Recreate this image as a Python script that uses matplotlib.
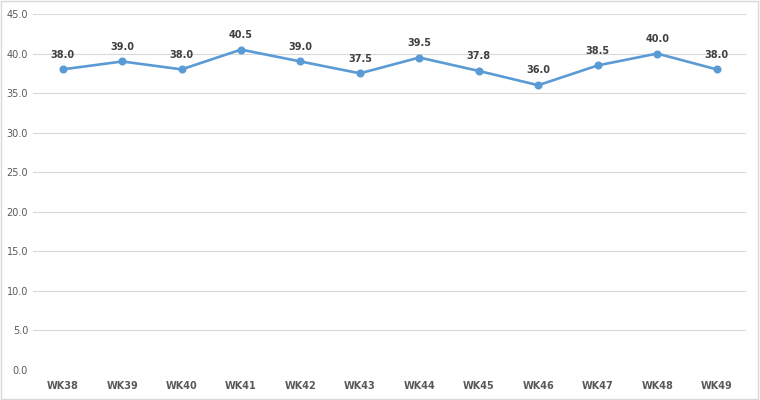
import matplotlib.pyplot as plt
from matplotlib.patches import Rectangle

weeks = ["WK38", "WK39", "WK40", "WK41", "WK42", "WK43",
         "WK44", "WK45", "WK46", "WK47", "WK48", "WK49"]
values = [38.0, 39.0, 38.0, 40.5, 39.0, 37.5, 39.5, 37.8, 36.0, 38.5, 40.0, 38.0]
y_ticks = [0, 5, 10, 15, 20, 25, 30, 35, 40, 45]

fig = plt.figure(figsize=(7.6, 4), dpi=100)
ax = fig.add_axes([0.0434, 0.075, 0.9386, 0.89])

x = list(range(len(weeks)))
ax.plot(x, values, color="#5B9BD5", lw=1.9, marker="o", ms=4.8, zorder=3)
for xi, v in zip(x, values):
    ax.annotate(f"{v:.1f}", (xi, v), xytext=(0, 7), textcoords="offset points",
                ha="center", va="bottom", fontsize=7, fontweight="bold",
                color="#404040")

ax.set_xlim(-0.5, len(weeks) - 0.5)
ax.set_ylim(0, 45)
ax.set_yticks(y_ticks)
ax.set_yticklabels([f"{t:.1f}" for t in y_ticks])
ax.set_xticks(x)
ax.set_xticklabels(weeks)
ax.grid(axis="y", color="#D9D9D9", lw=0.8)
ax.set_axisbelow(True)
for s in ax.spines.values():
    s.set_visible(False)
ax.tick_params(length=0, labelsize=7, labelcolor="#595959")
ax.tick_params(axis="x", pad=8)
for lbl in ax.get_xticklabels():
    lbl.set_fontweight("bold")

fig.patches.append(Rectangle((0.001, 0.002), 0.997, 0.996, transform=fig.transFigure,
                             fill=False, edgecolor="#D9D9D9", lw=1))
fig.savefig("out.png", dpi=100)
